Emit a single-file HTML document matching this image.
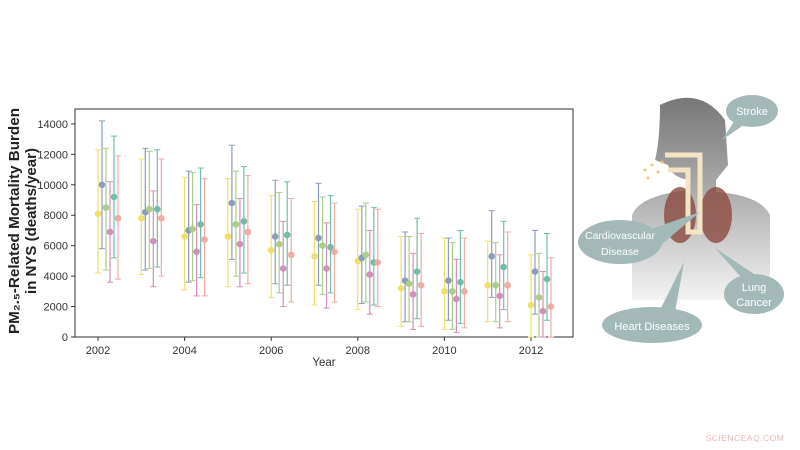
<!DOCTYPE html><html><head><style>body{margin:0;background:#fff;width:800px;height:450px;overflow:hidden}svg{display:block}text{font-family:"Liberation Sans",sans-serif}</style></head><body>
<svg id="s" width="800" height="450" xmlns="http://www.w3.org/2000/svg">
<rect x="75" y="109" width="498" height="228" fill="none" stroke="#333" stroke-width="1"/>
<g id="ticks" font-size="11" fill="#333"></g>
<g id="d"></g>
<text x="324" y="366" font-size="11.5" text-anchor="middle" fill="#333">Year</text>
<text transform="translate(19,221) rotate(-90)" font-size="15" font-weight="bold" text-anchor="middle" fill="#222" textLength="226" lengthAdjust="spacingAndGlyphs">PM₂.₅-Related Mortality Burden</text>
<text transform="translate(36,221) rotate(-90)" font-size="15" font-weight="bold" text-anchor="middle" fill="#222">in NYS (deaths/year)</text>
<defs><linearGradient id="bg" x1="0" y1="0" x2="0" y2="1"><stop offset="0" stop-color="#777"/><stop offset="0.45" stop-color="#aaa"/><stop offset="1" stop-color="#f4f4f4"/></linearGradient></defs>
<path d="M660 105 Q700 85 725 120 L728 165 L716 180 L716 192 Q760 195 770 215 L770 300 L632 300 L632 215 Q640 195 690 190 L690 180 Q672 178 668 165 L655 160 Q660 140 660 105 Z" fill="url(#bg)"/>
<ellipse cx="680" cy="215" rx="16" ry="28" fill="#8b4a3e" opacity="0.8"/><ellipse cx="716" cy="215" rx="16" ry="28" fill="#8b4a3e" opacity="0.8"/>
<path d="M665 155 L700 155 L700 232 L688 232 L688 170 L668 170" stroke="#f3e4c4" stroke-width="5" fill="none"/>
<g fill="#e8c870"><circle cx="645" cy="170" r="1.5"/><circle cx="652" cy="165" r="1.5"/><circle cx="658" cy="172" r="1.5"/><circle cx="648" cy="178" r="1.5"/><circle cx="662" cy="162" r="1.5"/></g>
<g fill="#a3b9b8">
<ellipse cx="752" cy="111" rx="26" ry="16"/><path d="M735 120 L722 140 L745 124Z"/>
<ellipse cx="620" cy="242" rx="42" ry="22"/><path d="M648 230 L700 212 L655 250Z"/>
<ellipse cx="754" cy="294" rx="30" ry="20"/><path d="M740 276 L715 248 L760 278Z"/>
<ellipse cx="652" cy="325" rx="50" ry="18"/><path d="M660 310 L684 262 L675 312Z"/>
</g>
<g fill="#fff" font-size="11" text-anchor="middle"><text x="752" y="115">Stroke</text><text x="620" y="239" font-size="10.5">Cardiovascular</text><text x="620" y="255" font-size="10.5">Disease</text><text x="754" y="291">Lung</text><text x="754" y="306">Cancer</text><text x="652" y="330">Heart Diseases</text></g>
<text x="745" y="441" font-size="8.5" fill="#e8b8b8" text-anchor="middle" letter-spacing="0.5">SCIENCEAQ.COM</text>
</svg>
<script>
var Y=v=>337-v*0.01522, X=y=>98+(y-2002)*43.3;
var t=document.getElementById('ticks'),h='';
for(var v=0;v<=14000;v+=2000){h+='<line x1="71" x2="75" y1="'+Y(v)+'" y2="'+Y(v)+'" stroke="#333"/><text x="68" y="'+(Y(v)+4)+'" text-anchor="end">'+v+'</text>';}
for(var y=2002;y<=2012;y+=2){h+='<line x1="'+X(y)+'" x2="'+X(y)+'" y1="337" y2="341" stroke="#333"/><text x="'+X(y)+'" y="354" text-anchor="middle">'+y+'</text>';}
t.innerHTML=h;
var C=['#f0e06a','#8b9cc0','#a9cf84','#d48fbc','#6fbfa8','#f2aaa2'];
var D={2002:[[8100,4200,12300],[10000,5800,14200],[8500,4400,12400],[6900,3600,10200],[9200,5200,13200],[7800,3800,11900]],
2003:[[7800,4100,11700],[8200,4400,12400],[8400,4500,12200],[6300,3300,9600],[8400,4600,12300],[7800,4000,11700]],
2004:[[6600,3100,10500],[7000,3600,10900],[7100,3700,10800],[5600,2700,8700],[7400,3900,11100],[6400,2700,10400]],
2005:[[6600,3300,10400],[8800,5100,12600],[7400,4000,10900],[6100,3300,9100],[7600,4200,11200],[6900,3500,10600]],
2006:[[5700,2600,9300],[6600,3500,10300],[6100,2900,9500],[4500,2000,7600],[6700,3400,10200],[5400,2300,9100]],
2007:[[5300,2100,8900],[6500,3400,10100],[6000,2800,9200],[4500,1900,7500],[5900,2900,9300],[5600,2300,8800]],
2008:[[5000,1800,8400],[5200,2200,8600],[5400,2300,8800],[4100,1500,7000],[4900,2100,8500],[4900,2000,8400]],
2009:[[3200,700,6600],[3700,1000,6900],[3500,1000,6600],[2800,500,5500],[4300,1200,7800],[3400,700,6800]],
2010:[[3000,500,6500],[3700,1100,6500],[3000,500,6200],[2500,300,5100],[3600,900,7000],[3000,600,6500]],
2011:[[3400,1000,6300],[5300,2600,8300],[3400,1000,6200],[2700,600,5400],[4600,1800,7600],[3400,1000,6900]],
2012:[[2100,0,5400],[4300,1500,7000],[2600,0,5500],[1700,0,4300],[3800,1100,6800],[2000,0,5200]]};
h='';
for(var y in D){D[y].forEach(function(p,i){var x=X(+y)+i*4;var c=C[i];
h+='<line x1="'+x+'" x2="'+x+'" y1="'+Y(p[1])+'" y2="'+Y(p[2])+'" stroke="'+c+'" stroke-width="1.2"/>';
h+='<line x1="'+(x-3)+'" x2="'+(x+3)+'" y1="'+Y(p[1])+'" y2="'+Y(p[1])+'" stroke="'+c+'"/><line x1="'+(x-3)+'" x2="'+(x+3)+'" y1="'+Y(p[2])+'" y2="'+Y(p[2])+'" stroke="'+c+'"/>';
h+='<circle cx="'+x+'" cy="'+Y(p[0])+'" r="3.3" fill="'+c+'"/>';});}
document.getElementById('d').innerHTML=h;
</script>
</body></html>
